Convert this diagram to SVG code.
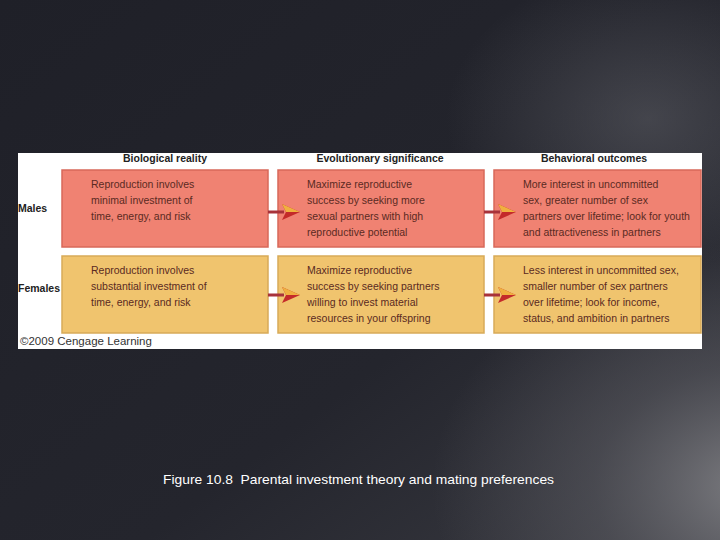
<svg xmlns="http://www.w3.org/2000/svg" width="720" height="540" viewBox="0 0 720 540">
<defs>
<linearGradient id="bg" x1="0" y1="0" x2="1" y2="1">
<stop offset="0" stop-color="#1f2028"/>
<stop offset="0.6" stop-color="#24252d"/>
<stop offset="1" stop-color="#3a3b42"/>
</linearGradient>
<radialGradient id="glow" cx="1.05" cy="0.9" r="0.45">
<stop offset="0" stop-color="#8a8a8e" stop-opacity="0.85"/>
<stop offset="0.5" stop-color="#6a6a70" stop-opacity="0.4"/>
<stop offset="1" stop-color="#6a6a70" stop-opacity="0"/>
</radialGradient>
<radialGradient id="glow2" cx="0.9" cy="0.22" r="0.28">
<stop offset="0" stop-color="#5e5f66" stop-opacity="0.55"/>
<stop offset="1" stop-color="#5e5f66" stop-opacity="0"/>
</radialGradient>
<g id="arrow">
<rect x="0" y="-1.5" width="16" height="3" fill="#a8323a"/>
<polygon points="14,-8 32,0 14,8 18,0" fill="#c42a2a"/>
<polygon points="14,-8 32,0 18,0" fill="#f0b040"/>
</g>
</defs>
<style>
.hdr{font-family:"Liberation Sans",Arial,sans-serif;font-weight:bold;font-size:10.5px;fill:#222;text-anchor:middle}
.row{font-family:"Liberation Sans",Arial,sans-serif;font-weight:bold;font-size:10.5px;fill:#222}
.t{font-family:"Liberation Sans",Arial,sans-serif;font-size:10.5px;fill:#5a2a22}
.m{fill:#f08272;stroke:#d8685a;stroke-width:1.5}
.f{fill:#f0c46e;stroke:#d8aa58;stroke-width:1.5}
.cap{font-family:"Liberation Sans",Arial,sans-serif;font-size:13px;fill:#ffffff;white-space:pre}
</style>
<rect width="720" height="540" fill="url(#bg)"/>
<rect width="720" height="540" fill="url(#glow)"/>
<rect width="720" height="540" fill="url(#glow2)"/>
<rect x="18" y="153" width="684" height="196" fill="#ffffff"/>
<text class="hdr" x="165" y="162">Biological reality</text>
<text class="hdr" x="380" y="162">Evolutionary significance</text>
<text class="hdr" x="594" y="162">Behavioral outcomes</text>
<text class="row" x="18" y="212">Males</text>
<text class="row" x="18" y="292">Females</text>
<g id="m1"><rect class="m" x="62" y="170" width="206" height="77"/>
<text class="t" x="91" y="188">Reproduction involves</text>
<text class="t" x="91" y="204">minimal investment of</text>
<text class="t" x="91" y="220">time, energy, and risk</text></g>
<g id="m2"><rect class="m" x="278" y="170" width="206" height="77"/>
<text class="t" x="307" y="188">Maximize reproductive</text>
<text class="t" x="307" y="204">success by seeking more</text>
<text class="t" x="307" y="220">sexual partners with high</text>
<text class="t" x="307" y="236">reproductive potential</text></g>
<g id="m3"><rect class="m" x="494" y="170" width="207" height="77"/>
<text class="t" x="523" y="188">More interest in uncommitted</text>
<text class="t" x="523" y="204">sex, greater number of sex</text>
<text class="t" x="523" y="220">partners over lifetime; look for youth</text>
<text class="t" x="523" y="236">and attractiveness in partners</text></g>
<g id="f1"><rect class="f" x="62" y="256" width="206" height="77"/>
<text class="t" x="91" y="274">Reproduction involves</text>
<text class="t" x="91" y="290">substantial investment of</text>
<text class="t" x="91" y="306">time, energy, and risk</text></g>
<g id="f2"><rect class="f" x="278" y="256" width="206" height="77"/>
<text class="t" x="307" y="274">Maximize reproductive</text>
<text class="t" x="307" y="290">success by seeking partners</text>
<text class="t" x="307" y="306">willing to invest material</text>
<text class="t" x="307" y="322">resources in your offspring</text></g>
<g id="f3"><rect class="f" x="494" y="256" width="207" height="77"/>
<text class="t" x="523" y="274">Less interest in uncommitted sex,</text>
<text class="t" x="523" y="290">smaller number of sex partners</text>
<text class="t" x="523" y="306">over lifetime; look for income,</text>
<text class="t" x="523" y="322">status, and ambition in partners</text></g>
<g id="connectors">
<use href="#arrow" x="268" y="212"/>
<use href="#arrow" x="484" y="212"/>
<use href="#arrow" x="268" y="295"/>
<use href="#arrow" x="484" y="295"/>
</g>
<text x="20" y="345" font-family="'Liberation Sans',Arial,sans-serif" font-size="11.5" fill="#333">©2009 Cengage Learning</text>
<text class="cap" x="163" y="484" textLength="391" lengthAdjust="spacingAndGlyphs">Figure 10.8  Parental investment theory and mating preferences</text>
</svg>
